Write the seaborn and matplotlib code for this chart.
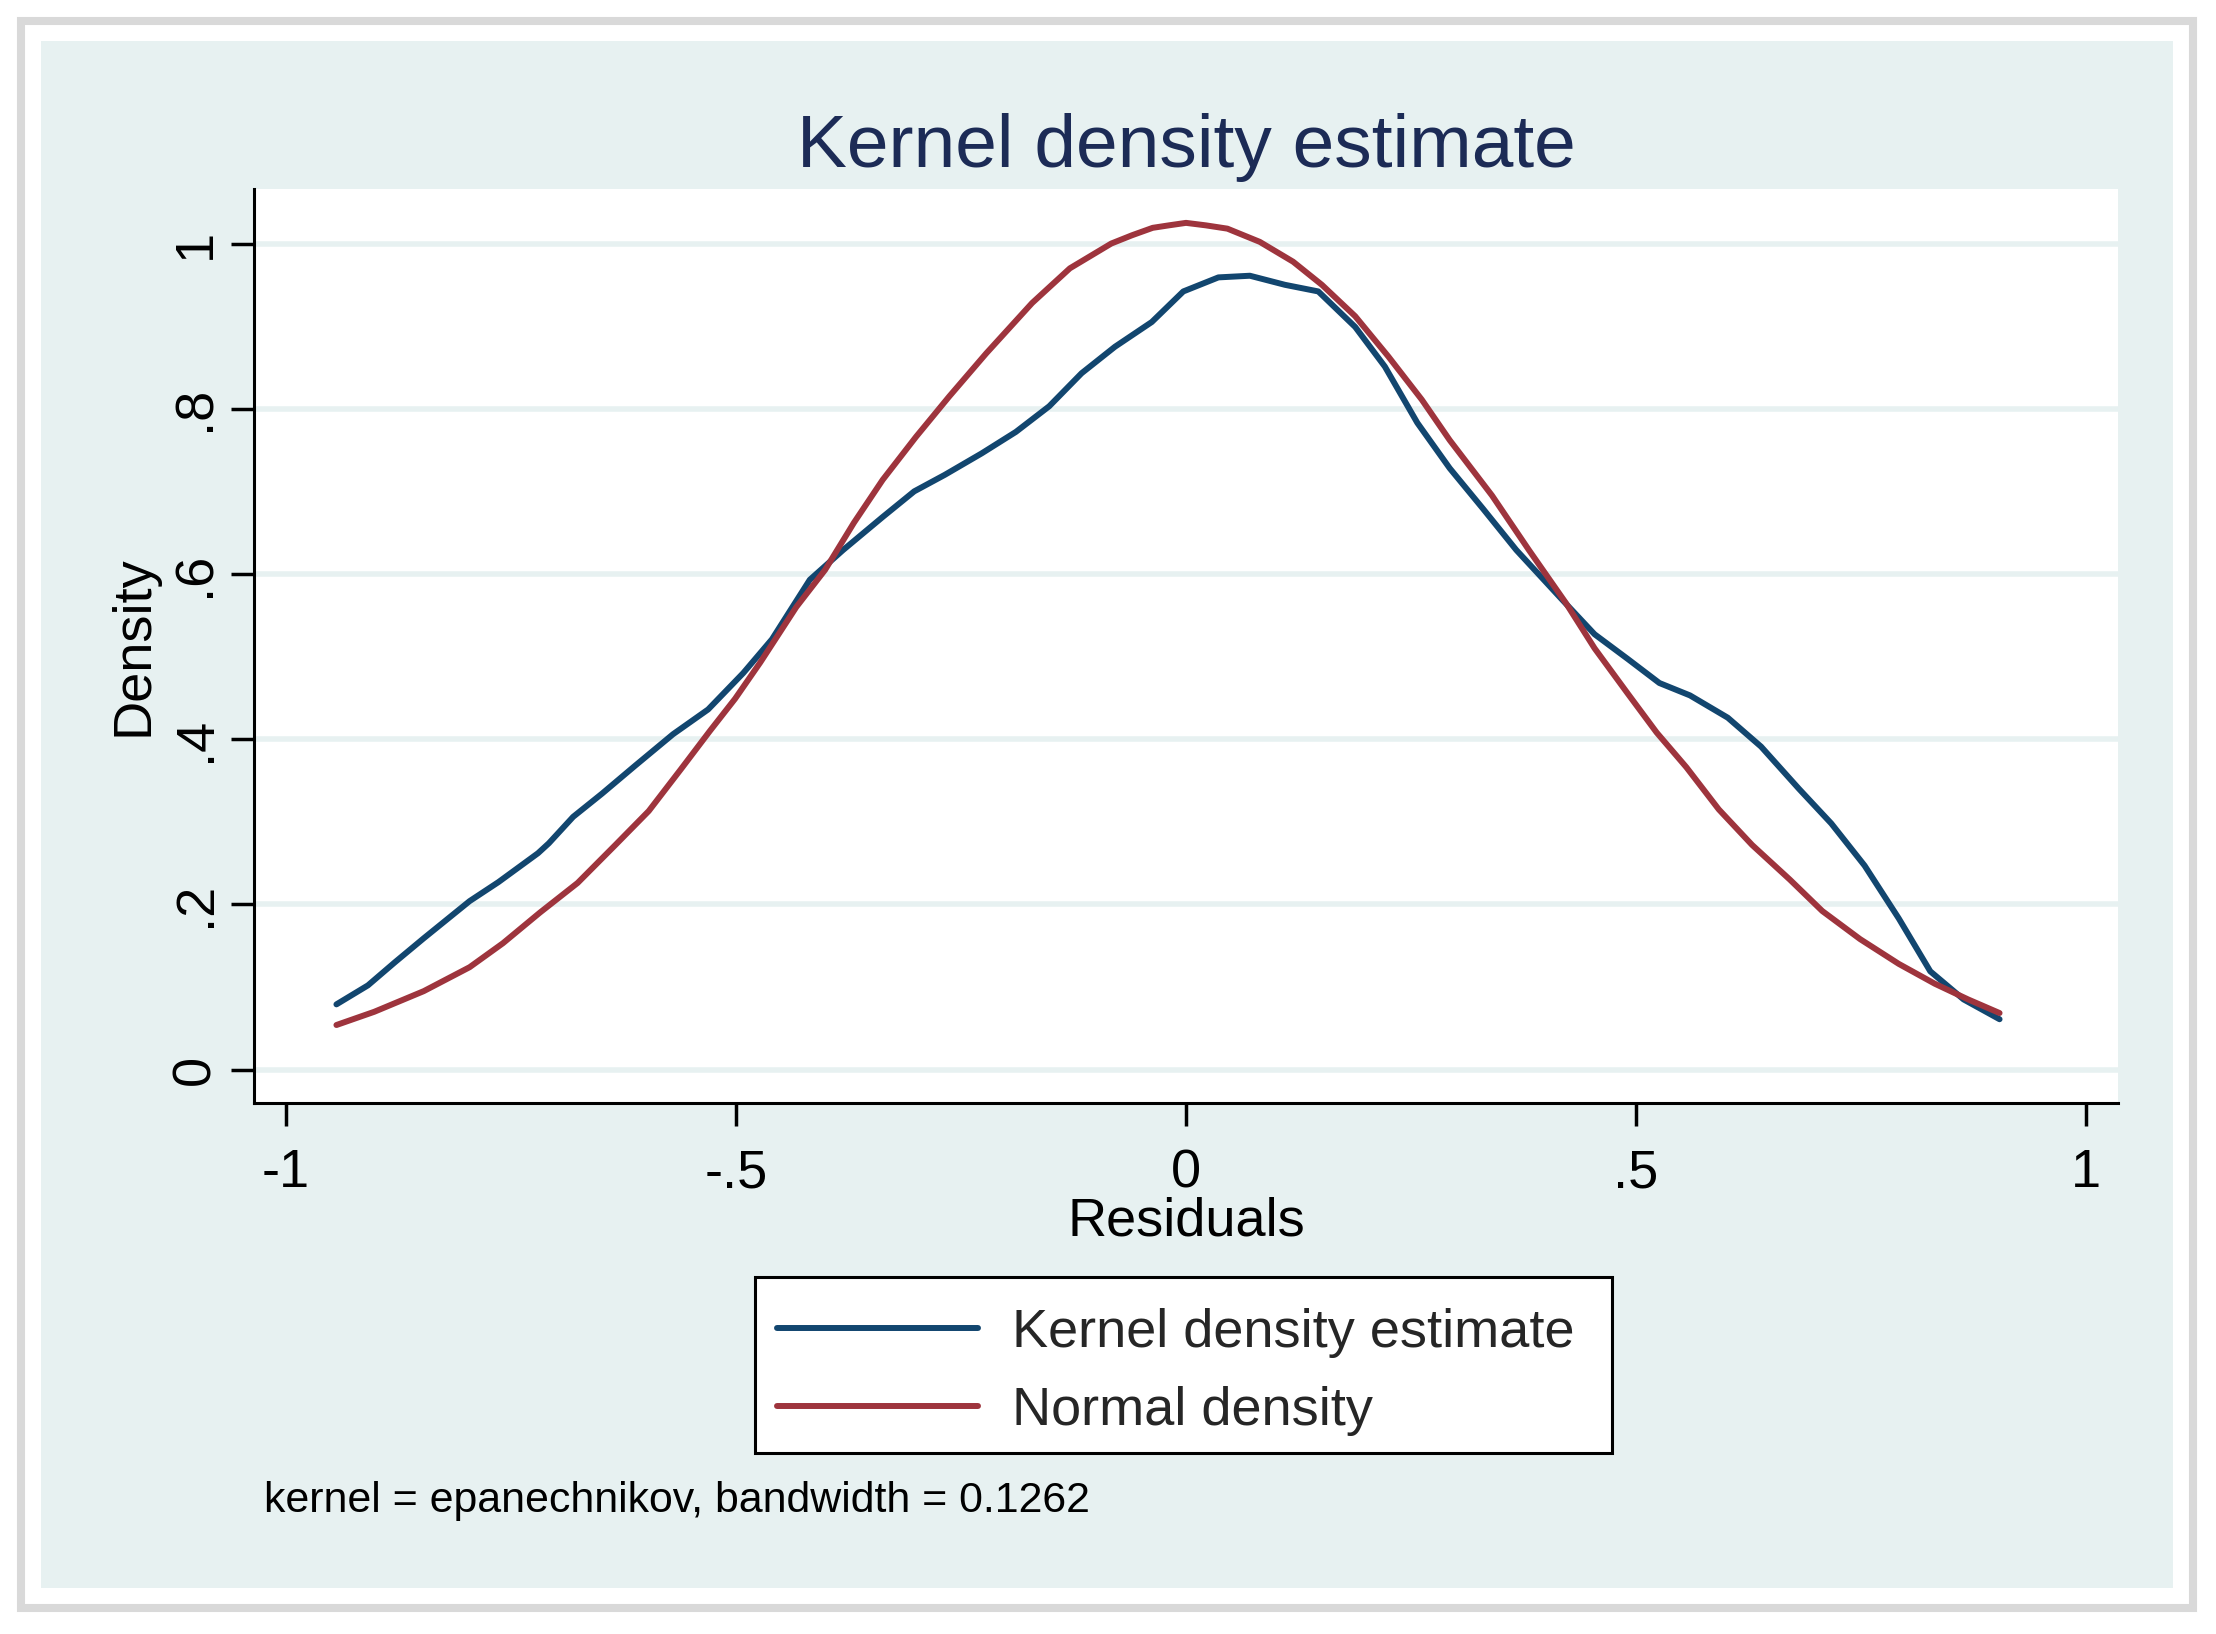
import pandas as pd
import seaborn as sns
import matplotlib.pyplot as plt
from matplotlib.patches import Rectangle

# values
kde_x = [-0.944, -0.909, -0.879, -0.847, -0.796, -0.764, -0.720, -0.708, -0.681,
         -0.649, -0.612, -0.570, -0.531, -0.492, -0.460, -0.418, -0.381, -0.337,
         -0.302, -0.268, -0.227, -0.189, -0.152, -0.116, -0.079, -0.038, -0.003,
         0.036, 0.071, 0.110, 0.147, 0.188, 0.221, 0.257, 0.293, 0.330, 0.367,
         0.417, 0.454, 0.491, 0.526, 0.560, 0.602, 0.639, 0.681, 0.717, 0.754,
         0.792, 0.827, 0.864, 0.904]
kde_y = [0.079, 0.102, 0.130, 0.159, 0.204, 0.227, 0.262, 0.274, 0.306,
         0.334, 0.368, 0.406, 0.436, 0.480, 0.521, 0.593, 0.629, 0.669,
         0.700, 0.720, 0.746, 0.772, 0.803, 0.843, 0.875, 0.905, 0.942,
         0.959, 0.961, 0.950, 0.942, 0.899, 0.851, 0.783, 0.728, 0.679, 0.629,
         0.570, 0.527, 0.497, 0.468, 0.453, 0.426, 0.391, 0.340, 0.298, 0.247,
         0.183, 0.119, 0.085, 0.061]

norm_x = [-0.944, -0.902, -0.847, -0.796, -0.759, -0.718, -0.676, -0.634, -0.597,
          -0.561, -0.529, -0.501, -0.473, -0.433, -0.401, -0.369, -0.337, -0.300,
          -0.263, -0.222, -0.171, -0.129, -0.083, -0.060, -0.037, -0.019, 0.000,
          0.022, 0.046, 0.064, 0.082, 0.119, 0.151, 0.188, 0.225, 0.262, 0.293,
          0.340, 0.381, 0.422, 0.454, 0.491, 0.523, 0.556, 0.592, 0.629, 0.671,
          0.707, 0.749, 0.792, 0.832, 0.869, 0.904]
norm_y = [0.054, 0.070, 0.095, 0.124, 0.153, 0.190, 0.226, 0.272, 0.313,
          0.364, 0.410, 0.449, 0.493, 0.560, 0.605, 0.662, 0.714, 0.766,
          0.815, 0.867, 0.928, 0.970, 1.000, 1.010, 1.019, 1.022, 1.025,
          1.022, 1.018, 1.010, 1.002, 0.978, 0.950, 0.912, 0.863, 0.811, 0.762,
          0.695, 0.629, 0.565, 0.510, 0.455, 0.408, 0.366, 0.315, 0.272, 0.230,
          0.192, 0.158, 0.128, 0.104, 0.085, 0.0685]

x_ticks = [-1, -0.5, 0, 0.5, 1]
x_tick_labels = ["-1", "-.5", "0", ".5", "1"]
y_ticks = [0, 0.2, 0.4, 0.6, 0.8, 1]
y_tick_labels = ["0", ".2", ".4", ".6", ".8", "1"]

BLUE = "#12466f"
RED = "#9e343d"
PANEL = "#e7f1f1"
W, H = 2216, 1634

sns.set_style("white")
plt.rcParams["font.family"] = ["Liberation Sans", "DejaVu Sans"]

fig = plt.figure(figsize=(W / 100, H / 100), dpi=100)
fig.patches.append(Rectangle((21 / W, (H - 1608) / H), (2193 - 21) / W, (1608 - 21) / H,
                             transform=fig.transFigure, facecolor="white",
                             edgecolor="#d9d9d9", lw=5.8, zorder=-2))
fig.patches.append(Rectangle((41 / W, (H - 1588) / H), (2173 - 41) / W, (1588 - 41) / H,
                             transform=fig.transFigure, facecolor=PANEL,
                             edgecolor="none", zorder=-1))
# legend frame (Stata pads it unevenly, so it is drawn on its own)
fig.patches.append(Rectangle((755 / W, (H - 1453) / H), (1612 - 755) / W, (1453 - 1277) / H,
                             transform=fig.transFigure, facecolor="white",
                             edgecolor="black", lw=2.2, zorder=4))

ax = fig.add_axes([254 / W, (H - 1103) / H, (2118 - 254) / W, (1103 - 189) / H])
ax.set_facecolor("white")

kde = pd.DataFrame({"x": kde_x, "y": kde_y})
norm = pd.DataFrame({"x": norm_x, "y": norm_y})
sns.lineplot(kde, x="x", y="y", ax=ax, color=BLUE, lw=4.3, estimator=None,
             sort=False, label="Kernel density estimate", solid_capstyle="round")
sns.lineplot(norm, x="x", y="y", ax=ax, color=RED, lw=4.3, estimator=None,
             sort=False, label="Normal density", solid_capstyle="round")

ax.set_xlim(-1.0356, 1.0356)
ax.set_ylim(-0.0404, 1.066)
ax.set_xticks(x_ticks)
ax.set_xticklabels(x_tick_labels)
ax.set_yticks(y_ticks)
ax.set_yticklabels(y_tick_labels, rotation=90, va="center")
ax.tick_params(axis="both", direction="out", length=16.6, width=2.5, color="black",
               labelsize=39, labelcolor="black")
ax.tick_params(axis="x", pad=16)
ax.tick_params(axis="y", pad=7.5)
ax.tick_params(bottom=True, left=True)

ax.yaxis.grid(True, color=PANEL, lw=4)
ax.xaxis.grid(False)
ax.set_axisbelow(True)

sns.despine(ax=ax)
for side in ["left", "bottom"]:
    ax.spines[side].set_color("black")
    ax.spines[side].set_linewidth(2.2)

ax.set_xlabel("Residuals", fontsize=39, color="black")
ax.xaxis.set_label_coords(0.5, -0.1028)
ax.set_ylabel("Density", fontsize=39, color="black")
ax.yaxis.set_label_coords(-0.0512, 0.5)

ax.set_title("Kernel density estimate", fontsize=54, color="#1c2b56", pad=15.8)

handles, labels = ax.get_legend_handles_labels()
ax.legend_.remove()
leg = fig.legend(handles, labels, loc="center",
                 bbox_to_anchor=(1176 / W, 1 - 1372 / H), fontsize=39,
                 handlelength=3.7, handletextpad=0.63, borderpad=0,
                 borderaxespad=0, labelspacing=0.53, frameon=False)
leg.set_zorder(5)

fig.text(264 / W, 1 - 1512 / H, "kernel = epanechnikov, bandwidth = 0.1262",
         fontsize=30.9, color="black", va="baseline", ha="left")

fig.savefig("out.png", dpi=100)
